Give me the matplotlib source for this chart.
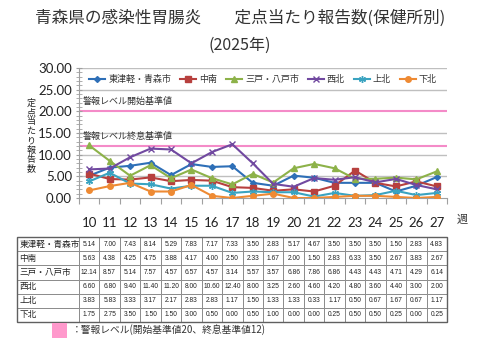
import matplotlib
matplotlib.use("Agg")
import matplotlib.pyplot as plt
import numpy as np
from matplotlib.patches import Rectangle

plt.rcParams['font.family'] = ['Noto Sans CJK JP', 'DejaVu Sans']

weeks = ["10", "11", "12", "13", "14", "15", "16", "17", "18", "19", "20", "21", "22", "23", "24", "25", "26", "27"]
series_names = ["東津軽・青森市", "中南", "三戸・八戸市", "西北", "上北", "下北"]
higashi = [5.14, 7.00, 7.43, 8.14, 5.29, 7.83, 7.17, 7.33, 3.50, 2.83, 5.17, 4.67, 3.50, 3.50, 3.50, 1.50, 2.83, 4.83]
chunan = [5.63, 4.38, 4.25, 4.75, 3.88, 4.17, 4.00, 2.50, 2.33, 1.67, 2.00, 1.50, 2.83, 6.33, 3.50, 2.67, 3.83, 2.67]
sannohe = [12.14, 8.57, 5.14, 7.57, 4.57, 6.57, 4.57, 3.14, 5.57, 3.57, 6.86, 7.86, 6.86, 4.43, 4.43, 4.71, 4.29, 6.14]
seihoku = [6.60, 6.80, 9.40, 11.40, 11.20, 8.00, 10.60, 12.40, 8.00, 3.25, 2.60, 4.60, 4.20, 4.80, 3.60, 4.40, 3.00, 2.00]
kamikita = [3.83, 5.83, 3.33, 3.17, 2.17, 2.83, 2.83, 1.17, 1.50, 1.33, 1.33, 0.33, 1.17, 0.50, 0.67, 1.67, 0.67, 1.17]
shimokita = [1.75, 2.75, 3.50, 1.50, 1.50, 3.00, 0.50, 0.00, 0.50, 1.00, 0.00, 0.00, 0.25, 0.50, 0.50, 0.25, 0.00, 0.25]
series_values = [higashi, chunan, sannohe, seihoku, kamikita, shimokita]
alert_start = 20
alert_end = 12

colors = ["#2E6FB7", "#B7403E", "#8DB249", "#7149A0", "#3AA3C0", "#EE8A33"]
markers = ["D", "s", "^", "x", (6, 2, 0), "o"]
msizes = [3, 4, 4, 5, 5, 4]

fig = plt.figure(figsize=(4.8, 3.6), dpi=100)
fig.patch.set_facecolor("white")

# Title
fig.text(0.5, 1 - 18/360, "青森県の感染性胃腸炎　　定点当たり報告数(保健所別)", ha="center", va="center",
         fontsize=12, color="#333333")
fig.text(0.5, 1 - 45/360, "(2025年)", ha="center", va="center", fontsize=11.5, color="#333333")

ax = fig.add_axes([79/480, 1 - 198/360, 368/480, 130/360])
x = np.arange(len(weeks))
ax.set_xlim(-0.5, len(weeks) - 0.5)
ax.set_ylim(0, 30)

for v in [5, 10, 15, 25, 30]:
    ax.axhline(v, color="#BFBFBF", lw=1.0, zorder=1)
ax.axhline(alert_start, color="#F48BC8", lw=1.5, zorder=1)
ax.axhline(alert_end, color="#F48BC8", lw=1.5, zorder=1)
ax.text(-0.3, alert_start + 1.2, "警報レベル開始基準値", fontsize=6.5, color="#333333", va="bottom")
ax.text(-0.3, alert_end + 1.2, "警報レベル終息基準値", fontsize=6.5, color="#333333", va="bottom")

handles = []
for name, vals, c, m, ms in zip(series_names, series_values, colors, markers, msizes):
    h, = ax.plot(x, vals, color=c, lw=1.5, marker=m, ms=ms, mec=c, mfc=c, mew=1.0, label=name, zorder=3)
    handles.append(h)

leg = ax.legend(handles=handles, loc="upper center", bbox_to_anchor=(0.5, 0.965), ncol=6, frameon=False,
                fontsize=6.5, handlelength=1.8, handletextpad=0.3, columnspacing=1.0,
                borderpad=0.2, borderaxespad=0.1)
for t in leg.get_texts():
    t.set_color("#333333")

ax.set_yticks(np.arange(0, 31, 5))
ax.set_yticklabels([f"{v:.2f}" for v in np.arange(0, 31, 5)], family=["Lato", "DejaVu Sans"], fontsize=9.5,
                   color="#222222")
ax.set_yticks(np.arange(0, 31, 1), minor=True)
ax.tick_params(axis="y", which="major", length=4, direction="inout", color="#A0A0A0", pad=3)
ax.tick_params(axis="y", which="minor", length=4, direction="inout", color="#A0A0A0")

ax.set_xticks(np.arange(-0.5, len(weeks), 1))
ax.set_xticklabels([])
ax.set_xticks(x, minor=True)
ax.set_xticklabels(weeks, minor=True, family=["Lato", "DejaVu Sans"], fontsize=9.5, color="#222222")
ax.tick_params(axis="x", which="major", length=4, direction="out", color="#A0A0A0")
ax.tick_params(axis="x", which="minor", length=0, pad=14)

for s in ["top", "right"]:
    ax.spines[s].set_visible(False)
ax.spines["left"].set_color("#A0A0A0")
ax.spines["bottom"].set_color("#A0A0A0")

fig.text(462/480, 1 - 220/360, "週", fontsize=8, ha="center", va="center", color="#333333")

# vertical y label, one character per line
ylabel = "定点当たり報告数"
for i, ch in enumerate(ylabel):
    fig.text(31/480, 1 - (103 + i * 9.4)/360, ch, fontsize=6.5, ha="center", va="center", color="#222222")

# Table
tx0, tx1 = 17, 447
ty0, ty1 = 237, 322
tax = fig.add_axes([tx0/480, 1 - ty1/360, (tx1 - tx0)/480, (ty1 - ty0)/360])
tax.set_axis_off()
label_w = (79 - tx0) / (tx1 - tx0)
col_w = (1 - label_w) / len(weeks)
cell_text = [[name] + [f"{v:.2f}" for v in vals] for name, vals in zip(series_names, series_values)]
tbl = tax.table(cellText=cell_text, colWidths=[label_w] + [col_w] * len(weeks), bbox=[0, 0, 1, 1],
                cellLoc="center")
tbl.auto_set_font_size(False)
for (r, c), cell in tbl.get_celld().items():
    cell.set_edgecolor("#8C8C8C")
    cell.set_linewidth(0.7)
    txt = cell.get_text()
    txt.set_color("#222222")
    if c == 0:
        txt.set_fontsize(6.2)
        txt.set_ha("left")
        cell.PAD = 0.04
        cell._loc = "left"
    else:
        txt.set_fontsize(4.8)
        txt.set_family(["Liberation Sans", "DejaVu Sans"])
tax.add_patch(Rectangle((0, 0), 1, 1, fill=False, edgecolor="#606060", lw=1.0, transform=tax.transAxes,
                        clip_on=False))

# bottom legend
fig.patches.append(Rectangle((52/480, 1 - 338/360), 15/480, 15/360, transform=fig.transFigure,
                             facecolor="#FF99CC", edgecolor="none"))
fig.text(72/480, 1 - 330/360, "：警報レベル(開始基準値20、終息基準値12)", fontsize=7, va="center", ha="left",
         color="#333333")

fig.savefig("out.png", dpi=100, facecolor="white")
